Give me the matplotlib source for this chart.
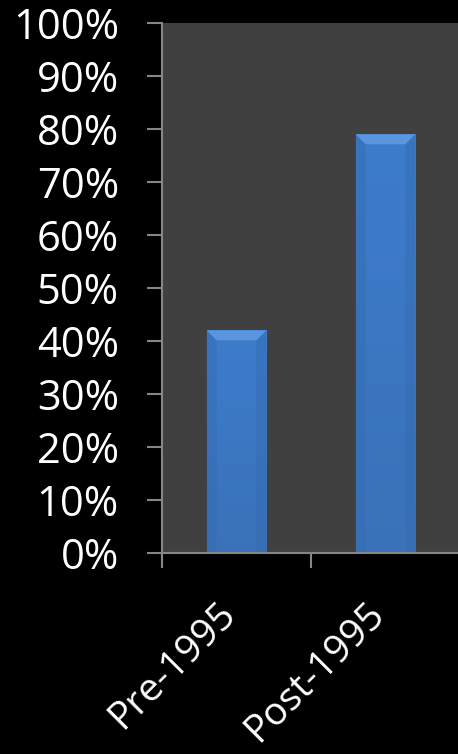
import numpy as np
import matplotlib.pyplot as plt
from matplotlib.patches import Polygon
from matplotlib.colors import LinearSegmentedColormap
import matplotlib.transforms as mtransforms

# Data
categories = ["Pre-1995", "Post-1995"]
values = [42, 79]
y_ticks = [0, 10, 20, 30, 40, 50, 60, 70, 80, 90, 100]

plt.rcParams['font.family'] = ['Open Sans', 'DejaVu Sans']

fig = plt.figure(figsize=(4.58, 7.54), dpi=100, facecolor="black")
ax = fig.add_axes([162 / 458, 201 / 754, 298 / 458, 530 / 754])
ax.set_facecolor("#404040")

x = np.arange(len(categories))
bar_w = 0.4
bars = ax.bar(x, values, width=bar_w, color="#3b76c2", edgecolor="#1f4f8a",
              linewidth=0.8, zorder=2)

ax.set_xlim(-0.5, len(categories) - 0.5)
ax.set_ylim(0, 100)

# bar shading: slight vertical gradient plus lighter top bevel
cmap = LinearSegmentedColormap.from_list("barshade", ["#3a72ba", "#3d7ccb"])
grad = np.linspace(0, 1, 64).reshape(-1, 1)
for b in bars:
    x0, x1 = b.get_x(), b.get_x() + b.get_width()
    top = b.get_height()
    im = ax.imshow(grad, extent=(x0, x1, 0, top), origin="lower", cmap=cmap,
                   aspect="auto", zorder=2.1)
    im.set_clip_path(b)
    bx = b.get_width() * 0.17
    by = 100 * 10 / 530
    bevel = Polygon([(x0, top), (x1, top), (x1 - bx, top - by), (x0 + bx, top - by)],
                    closed=True, facecolor="#5a95de", edgecolor="none", zorder=2.2)
    ax.add_patch(bevel)
    for xs in [(x0, x0 + bx), (x1, x1 - bx)]:
        side = Polygon([(xs[0], 0), (xs[0], top), (xs[1], top - by), (xs[1], 0)],
                       closed=True, facecolor="#3469ad", edgecolor="none",
                       alpha=0.4, zorder=2.15)
        ax.add_patch(side)
ax.set_xlim(-0.5, len(categories) - 0.5)
ax.set_ylim(0, 100)

# axes styling
for s in ["top", "right"]:
    ax.spines[s].set_visible(False)
for s in ["left", "bottom"]:
    ax.spines[s].set_color("#868686")
    ax.spines[s].set_linewidth(1.5)

ax.set_yticks(y_ticks)
ax.set_yticklabels([f"{v}%" for v in y_ticks])
ax.tick_params(axis="y", colors="#868686", labelcolor="white", length=11,
               width=1.5, pad=20, labelsize=30)

ax.set_xticks(x)
ax.set_xticklabels(categories, rotation=45, ha="right", va="top")
ax.tick_params(axis="x", length=0, pad=30, labelcolor="white", labelsize=28)
ax.set_xticks(np.arange(-0.5, len(categories), 1.0), minor=True)
ax.tick_params(axis="x", which="minor", colors="#868686", length=11, width=1.5)

offset = mtransforms.ScaledTranslation(7 / 100, 0, fig.dpi_scale_trans)
for lbl in ax.get_xticklabels():
    lbl.set_transform(lbl.get_transform() + offset)

fig.savefig("out.png", dpi=100, facecolor="black")
